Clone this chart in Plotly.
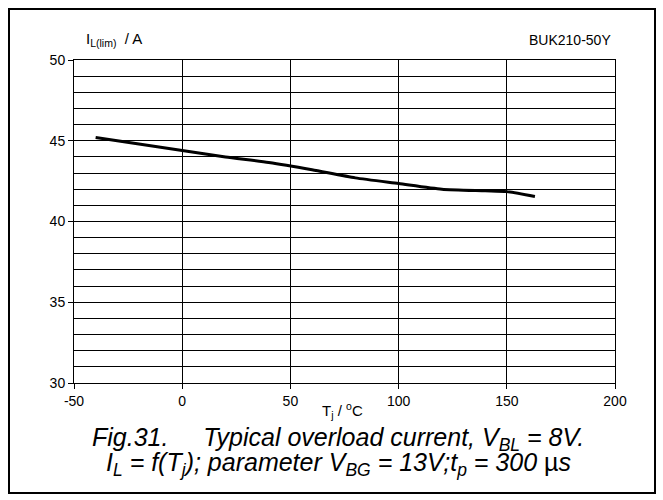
import plotly.graph_objects as go

temp_c = [-40, -20, 0, 20, 40, 60, 80, 100, 120, 140, 150, 163]
current_a = [45.2, 44.8, 44.4, 44.0, 43.65, 43.2, 42.7, 42.35, 42.0, 41.9, 41.85, 41.55]
x_ticks = [-50, 0, 50, 100, 150, 200]
x_tick_text = ["-50", "0", "50", "100", "150", "200"]
y_ticks = [30, 35, 40, 45, 50]

FONT = "Liberation Sans, Arial, sans-serif"

fig = go.Figure()
fig.add_trace(go.Scatter(x=temp_c, y=current_a, mode="lines",
                         line=dict(color="black", width=3, shape="spline", smoothing=0.6),
                         showlegend=False, hoverinfo="skip"))

L, R, T, B = 74, 48, 60, 117
W, H = 663, 500
pw, ph = W - L - R, H - T - B

def px(x):
    return (x - L) / pw

def py(y):
    return (H - B - y) / ph

fig.update_layout(
    width=W, height=H,
    margin=dict(l=L, r=R, t=T, b=B),
    paper_bgcolor="white", plot_bgcolor="white",
    font=dict(family=FONT, size=14, color="black"),
    xaxis=dict(range=[-50, 200], tickvals=x_ticks, ticktext=x_tick_text,
               showgrid=True, gridcolor="black", gridwidth=1,
               showline=True, linecolor="black", linewidth=1, mirror=True,
               ticks="outside", ticklen=5, tickcolor="black", zeroline=False,
               tickfont=dict(size=14, family=FONT)),
    yaxis=dict(range=[30, 50], tickvals=y_ticks, showgrid=True, gridcolor="black", gridwidth=1,
               showline=True, linecolor="black", linewidth=1, mirror=True,
               ticks="outside", ticklen=5, tickcolor="black", zeroline=False,
               minor=dict(dtick=1, showgrid=True, gridcolor="black", gridwidth=1, ticks=""),
               tickfont=dict(size=14, family=FONT)),
    shapes=[dict(type="rect", xref="paper", yref="paper",
                 x0=px(9), x1=px(655), y0=py(493), y1=py(9),
                 line=dict(color="black", width=2), fillcolor="rgba(0,0,0,0)")],
    annotations=[
        dict(xref="paper", yref="paper", x=px(84), y=py(40), xanchor="left", yanchor="middle",
             text="I<sub>L(lim)</sub>  / A", showarrow=False, font=dict(size=15, family=FONT)),
        dict(xref="paper", yref="paper", x=px(613), y=py(40), xanchor="right", yanchor="middle",
             text="BUK210-50Y", showarrow=False, font=dict(size=14, family=FONT)),
        dict(xref="paper", yref="paper", x=px(320), y=py(410), xanchor="left", yanchor="middle",
             text="T<sub>j</sub> / <sup>o</sup>C", showarrow=False, font=dict(size=15, family=FONT)),
        dict(xref="paper", yref="paper", x=px(338), y=py(439), xanchor="center", yanchor="middle",
             text="<i>Fig.31.     Typical overload current, V<sub>BL</sub> = 8V.</i>",
             showarrow=False, font=dict(size=25, family=FONT)),
        dict(xref="paper", yref="paper", x=px(338), y=py(464), xanchor="center", yanchor="middle",
             text="<i>I<sub>L</sub> = f(T<sub>j</sub>); parameter V<sub>BG</sub> = 13V;t<sub>p</sub> = 300 </i>µ<i>s</i>",
             showarrow=False, font=dict(size=25, family=FONT)),
    ],
)

fig.write_html("out.html", config={"displayModeBar": False},
               post_script="document.body.style.margin='0';")
